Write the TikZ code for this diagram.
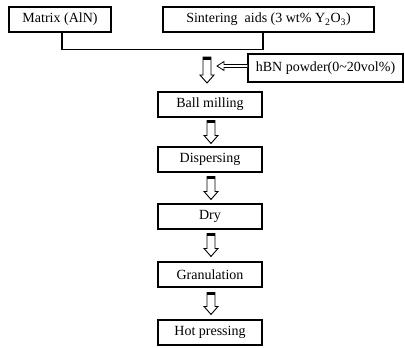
\documentclass[tikz,border=0pt]{standalone}
\usepackage{fontspec}
\setmainfont{Liberation Serif}
\usetikzlibrary{calc}
\tikzset{
  box/.style={draw=black, line width=1.1pt, minimum height=25pt, inner sep=0pt,
    font=\fontsize{14}{16}\selectfont, fill=white},
  procbox/.style={box, minimum width=104pt},
  arrowline/.style={draw=black, line width=0.9pt, fill=white, line join=miter},
  bracket/.style={draw=black, line width=1.1pt},
}
% block arrow from a top point to a bottom point (canvas coordinates)
\newcommand{\blockarrow}[2]{%
  \draw[arrowline] let \p1=#1, \p2=#2 in
    (\x1-4pt,\y1) -- (\x1+4pt,\y1) -- (\x1+4pt,\y2+8pt) -- (\x1+7pt,\y2+8pt)
    -- (\x1,\y2) -- (\x1-7pt,\y2+8pt) -- (\x1-4pt,\y2+8pt) -- cycle;
  \fill let \p1=#1 in (\x1-4pt,\y1) rectangle (\x1+4pt,\y1-2.5pt);
}
\begin{document}
\begin{tikzpicture}[x=1pt, y=-1pt]
\useasboundingbox (0,0) rectangle (405,348);
% top boxes
\node[box, minimum width=102pt] (mat) at (60,19.5) {Matrix (AlN)};
\node[box, minimum width=211pt] (sin) at (268.5,19.5) {Sintering\ \ aids (3 wt\% Y\textsubscript{2}O\textsubscript{3})};
\node[box, minimum width=155pt, minimum height=28pt] (hbn) at (325.5,68) {hBN powder(0\textasciitilde20vol\%)};
% process boxes
\node[procbox] (bm) at (210,104.5) {Ball milling};
\node[procbox] (dis) at (210,159.5) {Dispersing};
\node[procbox] (dry) at (210,216.5) {Dry};
\node[procbox] (gra) at (210,274.5) {Granulation};
\node[procbox] (hot) at (210,332.5) {Hot pressing};
% bracket joining the two top boxes
\draw[bracket] ([xshift=2pt]mat.south) -- ++(0,17) -| ([xshift=-5.5pt]sin.south);
% first block arrow
\coordinate (a0top) at (207,57);
\coordinate (a0bot) at (207,83);
\blockarrow{(a0top)}{(a0bot)}
% hBN feed arrow
\coordinate (feed) at (217,66);
\draw[arrowline, line width=0.8pt] (hbn.west |- 0,64.5) -- (224,64.5) -- (224,61.5) -- (feed)
  -- (224,70.5) -- (224,67.5) -- (hbn.west |- 0,67.5);
% process arrows
\blockarrow{($(bm.south)+(1,3)$)}{($(dis.north)+(1,-3)$)}
\blockarrow{($(dis.south)+(1,4)$)}{($(dry.north)+(1,-4)$)}
\blockarrow{($(dry.south)+(1,4)$)}{($(gra.north)+(1,-5)$)}
\blockarrow{($(gra.south)+(1,5)$)}{($(hot.north)+(1,-5)$)}
\end{tikzpicture}
\end{document}
